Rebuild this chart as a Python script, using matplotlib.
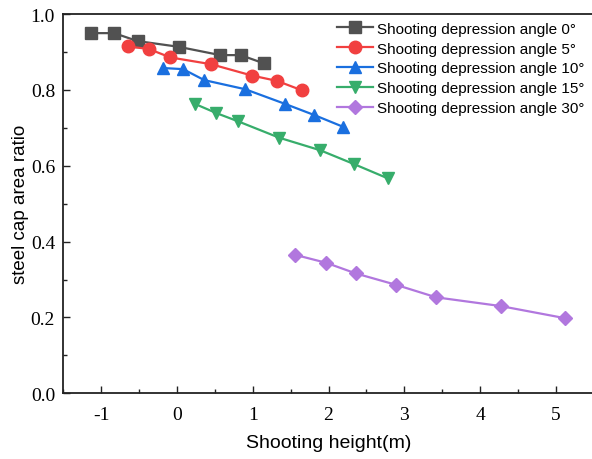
import matplotlib.pyplot as plt
from matplotlib.ticker import MultipleLocator

plt.rcParams['axes.unicode_minus'] = False

# shooting height (m) and steel cap area ratio for each depression angle
h_0 = [-1.13, -0.83, -0.52, 0.02, 0.57, 0.84, 1.15]
r_0 = [0.950, 0.950, 0.929, 0.914, 0.892, 0.892, 0.870]

h_5 = [-0.65, -0.37, -0.09, 0.45, 0.99, 1.32, 1.65]
r_5 = [0.915, 0.908, 0.886, 0.868, 0.838, 0.824, 0.799]

h_10 = [-0.19, 0.08, 0.36, 0.90, 1.43, 1.81, 2.19]
r_10 = [0.858, 0.855, 0.826, 0.802, 0.763, 0.734, 0.703]

h_15 = [0.24, 0.52, 0.81, 1.35, 1.89, 2.33, 2.78]
r_15 = [0.763, 0.739, 0.717, 0.674, 0.641, 0.605, 0.567]

h_30 = [1.56, 1.97, 2.36, 2.89, 3.42, 4.27, 5.12]
r_30 = [0.365, 0.344, 0.316, 0.286, 0.253, 0.230, 0.198]

labels = ['Shooting depression angle 0\u00b0', 'Shooting depression angle 5\u00b0',
          'Shooting depression angle 10\u00b0', 'Shooting depression angle 15\u00b0',
          'Shooting depression angle 30\u00b0']

fig = plt.figure(figsize=(5.92, 4.6), dpi=100)
ax = fig.add_axes([0.107, 0.143, 0.896, 0.824])

series = [(h_0, r_0, 's', '#515151', 9),
          (h_5, r_5, 'o', '#F14040', 9),
          (h_10, r_10, '^', '#1A6FDF', 9),
          (h_15, r_15, 'v', '#37AD6B', 9),
          (h_30, r_30, 'D', '#B177DE', 7.5)]

for (x, y, m, c, ms), lab in zip(series, labels):
    ax.plot(x, y, marker=m, color=c, markersize=ms, linewidth=1.6, label=lab)

ax.set_xlim(-1.5, 5.5)
ax.set_ylim(0.0, 1.0)
ax.xaxis.set_major_locator(MultipleLocator(1))
ax.xaxis.set_minor_locator(MultipleLocator(0.5))
ax.yaxis.set_major_locator(MultipleLocator(0.2))
ax.yaxis.set_minor_locator(MultipleLocator(0.1))
ax.set_yticks([0.0, 0.2, 0.4, 0.6, 0.8, 1.0])
ax.set_yticklabels(['0.0', '0.2', '0.4', '0.6', '0.8', '1.0'])
ax.tick_params(which='both', direction='in', top=False, right=False,
               width=1.0, colors='#222222')
ax.tick_params(which='major', length=5)
ax.tick_params(axis='x', which='major', pad=9)
ax.tick_params(axis='y', which='major', pad=6)
ax.tick_params(which='minor', length=3)
for lbl in ax.get_xticklabels() + ax.get_yticklabels():
    lbl.set_fontfamily('Liberation Serif')
    lbl.set_fontsize(14)
    lbl.set_color('black')
for sp in ax.spines.values():
    sp.set_linewidth(1.3)
    sp.set_color('#222222')

ax.set_xlabel('Shooting height(m)', fontfamily='Liberation Sans', fontsize=14, labelpad=8)
ax.set_ylabel('steel cap area ratio', fontfamily='Liberation Sans', fontsize=13.5, labelpad=1)

leg = ax.legend(loc='upper right', bbox_to_anchor=(0.997, 1.0), frameon=False,
                prop={'family': 'Liberation Sans', 'size': 11},
                handlelength=2.3, handletextpad=0.3, labelspacing=0.38,
                borderaxespad=0.1)

fig.savefig('out.png', dpi=100)
